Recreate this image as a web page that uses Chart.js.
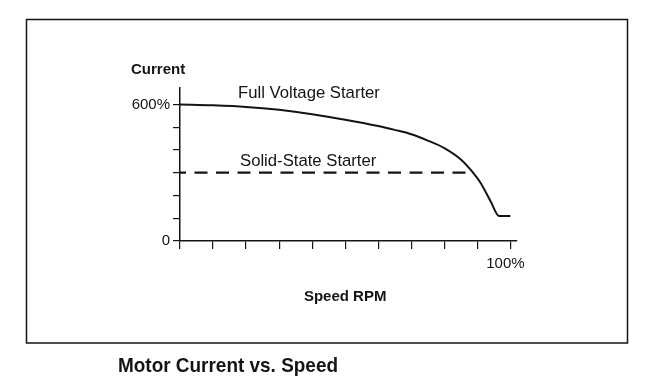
<!DOCTYPE html>
<html>
<head>
<meta charset="utf-8">
<script src="https://cdn.jsdelivr.net/npm/chart.js@4.4.1/dist/chart.umd.min.js"></script>
<style>
  html, body { margin: 0; padding: 0; background: #fff; }
  #wrap { width: 651px; height: 385px; }
</style>
</head>
<body>
<div id="wrap"><canvas id="myChart" width="651" height="385"></canvas></div>
<script>
// speed in % of rated speed, current in % of full load current
const speed = [0, 10, 20, 30, 40, 50, 60, 65, 70, 75, 80, 85, 89, 91, 94, 96.6, 100];
const fullVoltage = [600, 596, 589, 576, 557, 533, 505, 488, 469, 441, 408, 358, 295, 255, 175, 110, 110];
const solidSpeed = [0, 87.2];
const solidState = [300, 300];
const seriesNames = ["Full Voltage Starter", "Solid-State Starter"];
const yTickLabels = { 0: "0", 600: "600%" };
const xTickLabels = { 100: "100%" };

const FONT = '"Liberation Sans", Arial, Helvetica, sans-serif';
const INK = "#141414";

Chart.defaults.font.family = FONT;
Chart.defaults.color = INK;

// frame, captions and title
const extras = {
  id: "extras",
  afterDraw(chart) {
    const c = chart.ctx;
    const xs = chart.scales.x;
    c.save();
    c.strokeStyle = INK;
    c.lineWidth = 1.5;
    c.strokeRect(26.5, 19.5, 601, 323.5);

    c.fillStyle = INK;
    c.textBaseline = "alphabetic";
    c.textAlign = "left";
    c.font = "bold 15px " + FONT;
    c.fillText("Current", 131, 74);

    c.font = "16.7px " + FONT;
    c.fillText(seriesNames[0], 238, 97.5);
    c.fillText(seriesNames[1], 240, 165.5);

    c.font = "bold 15px " + FONT;
    c.textAlign = "center";
    c.fillText("Speed RPM", xs.getPixelForValue(50), 300.5);

    // title, squeezed a bit like the condensed face of the original
    c.textAlign = "left";
    c.font = "bold 21px " + FONT;
    const t = "Motor Current vs. Speed";
    const w = c.measureText(t).width;
    c.translate(118, 372);
    c.scale(220 / w, 1);
    c.fillText(t, 0, 0);
    c.restore();
  }
};

const ctx = document.getElementById("myChart").getContext("2d");
new Chart(ctx, {
  type: "line",
  data: {
    datasets: [
      {
        label: seriesNames[0],
        data: speed.map((s, i) => ({ x: s, y: fullVoltage[i] })),
        borderColor: INK,
        borderWidth: 2,
        pointRadius: 0,
        cubicInterpolationMode: "monotone",
        fill: false
      },
      {
        label: seriesNames[1],
        data: solidSpeed.map((s, i) => ({ x: s, y: solidState[i] })),
        borderColor: INK,
        borderWidth: 2.2,
        borderDash: [13, 8.5],
        borderDashOffset: 7,
        pointRadius: 0,
        fill: false
      }
    ]
  },
  options: {
    responsive: false,
    animation: false,
    devicePixelRatio: 1,
    layout: { padding: { left: 110, top: 88, right: 134, bottom: 80 } },
    plugins: {
      legend: { display: false },
      tooltip: { enabled: false },
      title: { display: false }
    },
    scales: {
      x: {
        type: "linear",
        min: 0,
        max: 102,
        afterFit: (s) => { s.height = 64; },
        border: { display: true, color: INK, width: 1.5 },
        grid: { drawOnChartArea: false, drawTicks: true, tickLength: 8, color: INK, lineWidth: 1.2 },
        ticks: {
          stepSize: 10,
          includeBounds: false,
          autoSkip: false,
          maxRotation: 0,
          padding: 6,
          labelOffset: -5,
          font: { size: 15 },
          color: INK,
          callback: (v) => xTickLabels[v] || ""
        }
      },
      y: {
        min: 0,
        max: 672,
        afterFit: (s) => { s.width = 70; },
        border: { display: true, color: INK, width: 1.5 },
        grid: { drawOnChartArea: false, drawTicks: true, tickLength: 7, color: INK, lineWidth: 1.2 },
        ticks: {
          stepSize: 100,
          includeBounds: false,
          autoSkip: false,
          padding: 3,
          font: { size: 15 },
          color: INK,
          callback: (v) => yTickLabels[v] || ""
        }
      }
    }
  },
  plugins: [extras]
});
</script>
</body>
</html>
